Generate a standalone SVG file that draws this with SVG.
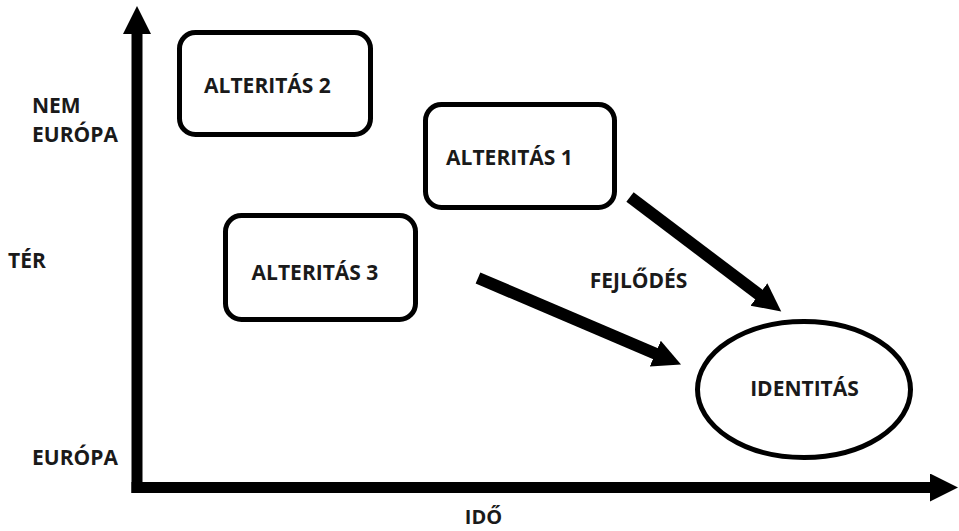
<svg xmlns="http://www.w3.org/2000/svg" width="959" height="531" viewBox="0 0 959 531">
<style>
.box{fill:#fff;stroke:#000;stroke-width:5}
.t{font-family:"Open Sans","Noto Sans","Liberation Sans",sans-serif;font-weight:700;font-size:21px;fill:#1a1a1a}
.m{text-anchor:middle}
.ax{stroke:#000;stroke-width:11;fill:none}
.ar{stroke:#000;stroke-width:12;fill:none}
</style>
<defs>
<marker id="head" markerUnits="userSpaceOnUse" markerWidth="30" markerHeight="30" refX="1" refY="14" orient="auto">
<path d="M0,0 L28,14 L0,28 z" fill="#000"/>
</marker>
</defs>
<rect width="959" height="531" fill="#fff"/>
<g id="connectors">
<line class="ax" x1="137" y1="493" x2="137" y2="33" marker-end="url(#head)"/>
<line class="ax" x1="131.5" y1="487.5" x2="931" y2="487.5" marker-end="url(#head)"/>
<line class="ar" x1="630" y1="197" x2="759.7" y2="295.1" marker-end="url(#head)"/>
<line class="ar" x1="478" y1="278" x2="656.2" y2="354" marker-end="url(#head)"/>
</g>
<g id="alteritas2">
<rect class="box" x="179.5" y="32.5" width="191" height="102" rx="16"/>
<text class="t m" x="267.5" y="93">ALTERITÁS 2</text>
</g>
<g id="alteritas1">
<rect class="box" x="425.5" y="104.5" width="189" height="103" rx="16"/>
<text class="t m" x="509.5" y="165">ALTERITÁS 1</text>
</g>
<g id="alteritas3">
<rect class="box" x="225.5" y="215.5" width="190" height="104" rx="16"/>
<text class="t m" x="315" y="280">ALTERITÁS 3</text>
</g>
<g id="identitas">
<ellipse class="box" cx="804" cy="389.5" rx="106.5" ry="68"/>
<text class="t m" x="804.5" y="396">IDENTITÁS</text>
</g>
<g id="labels">
<text class="t m" x="638.5" y="288">FEJLŐDÉS</text>
<text class="t" x="32" y="113">NEM</text>
<text class="t" x="32" y="142">EURÓPA</text>
<text class="t" x="8" y="268">TÉR</text>
<text class="t" x="32" y="465">EURÓPA</text>
<text class="t m" x="483.5" y="524" style="font-size:20px">IDŐ</text>
</g>
</svg>
